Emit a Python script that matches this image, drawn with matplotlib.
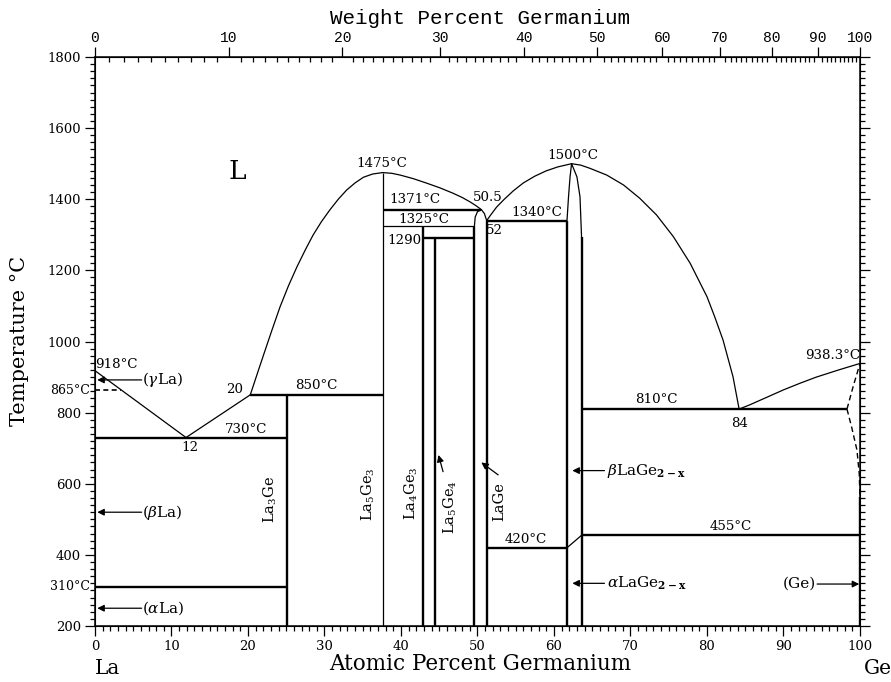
import numpy as np
import matplotlib.pyplot as plt

plt.rcParams['font.family'] = 'DejaVu Serif'
plt.rcParams['mathtext.fontset'] = 'dejavuserif'

# curves (atomic % Ge, temperature in C)
liq_la_x = [0, 11.9]
liq_la_t = [918, 730]
liq_12_20_x = [11.9, 20.3]
liq_12_20_t = [730, 850]
dome1_x = [20.3, 21.1, 22.0, 23.1, 24.2, 25.3, 26.4, 27.5, 28.5, 29.6, 30.7, 31.8, 32.9, 34.0,
           35.1, 36.3, 37.6, 38.8, 39.9, 41.6, 43.4, 45.1, 46.8, 48.0, 49.0, 49.8, 50.5]
dome1_t = [850, 902, 960, 1030, 1098, 1157, 1210, 1258, 1299, 1337, 1370, 1400, 1426, 1446,
           1462, 1471, 1475, 1473, 1468, 1458, 1445, 1432, 1417, 1405, 1393, 1382, 1371]
lage_arc_x = [49.6, 49.7, 50.0, 50.5, 50.9, 51.2]
lage_arc_t = [1325, 1350, 1365, 1371, 1360, 1340]
dome2_x = [51.2, 51.8, 52.5, 53.5, 54.7, 56.0, 57.5, 59.0, 60.5, 62.3, 63.5, 64.7, 66.9, 69.1,
           71.2, 73.4, 75.6, 77.8, 80.0, 81.0, 82.1, 83.4, 84.2]
dome2_t = [1340, 1358, 1378, 1400, 1424, 1446, 1465, 1480, 1491, 1500, 1496, 1487, 1468, 1440,
           1403, 1356, 1295, 1220, 1126, 1070, 1004, 901, 810]
liq_ge_x = [84.2, 85.6, 87.8, 90.0, 92.2, 94.3, 97.2, 100]
liq_ge_t = [810, 822, 843, 864, 883, 900, 920, 938.3]
lage2_left_x = [61.7, 61.9, 62.1, 62.3]
lage2_left_t = [1340, 1407, 1463, 1500]
lage2_right_x = [62.3, 63.0, 63.4, 63.6]
lage2_right_t = [1500, 1463, 1407, 1295]
ge_solvus_up_x = [98.3, 99.1, 100]
ge_solvus_up_t = [810, 873, 938.3]
ge_solvus_lo_x = [98.3, 98.9, 99.6, 99.9, 100]
ge_solvus_lo_t = [810, 760, 695, 629, 564]

# invariant lines
iso_t = [310, 730, 850, 1371, 1290, 1340, 420, 455, 810]
iso_x0 = [0, 0, 20.3, 37.6, 42.9, 51.2, 51.2, 63.6, 63.6]
iso_x1 = [25.1, 25.1, 37.6, 50.5, 49.6, 61.7, 61.7, 100, 98.3]
# phase boundaries (vertical)
vert_x = [25.1, 42.9, 44.5, 49.6, 51.2, 61.7, 63.6, 100]
vert_top = [850, 1325, 1290, 1325, 1340, 1340, 1295, 564]
la5ge3_x = 37.6
la5ge3_top = 1475
thin_iso_t = 1325
thin_iso_x = [37.6, 49.6]
slant_x = [61.7, 63.6]
slant_t = [420, 455]
dash_865_x = [0, 3.4]
dash_865_t = [865, 865]

# weight percent ticks on top
wt_major = list(range(0, 101, 10))
wt_minor = list(range(0, 101, 1))
M_LA, M_GE = 138.905, 72.63


def wt_to_at(w):
    w = np.asarray(w, dtype=float)
    g = w / M_GE
    l = (100 - w) / M_LA
    return 100 * g / (g + l)


fig = plt.figure(figsize=(8.91, 6.82), dpi=100)
ax = fig.add_axes([0.1066, 0.0821, 0.8586, 0.8343])

thick = 1.7
thin = 0.9
k = 'black'

for xs, ts in [(liq_la_x, liq_la_t), (liq_12_20_x, liq_12_20_t), (dome1_x, dome1_t),
               (lage_arc_x, lage_arc_t), (dome2_x, dome2_t), (liq_ge_x, liq_ge_t),
               (lage2_left_x, lage2_left_t), (lage2_right_x, lage2_right_t)]:
    ax.plot(xs, ts, color=k, lw=thin, solid_joinstyle='round')

ax.hlines(iso_t, iso_x0, iso_x1, color=k, lw=thick)
ax.vlines(vert_x, 200, vert_top, color=k, lw=thick)
ax.vlines(la5ge3_x, 200, la5ge3_top, color=k, lw=thin)
ax.hlines(thin_iso_t, thin_iso_x[0], thin_iso_x[1], color=k, lw=thin)
ax.plot(slant_x, slant_t, color=k, lw=thin)
ax.plot(dash_865_x, dash_865_t, color=k, lw=1.2, ls=(0, (3, 2)))
ax.plot(ge_solvus_up_x, ge_solvus_up_t, color=k, lw=1.0, ls=(0, (4, 2.5)))
ax.plot(ge_solvus_lo_x, ge_solvus_lo_t, color=k, lw=1.0, ls=(0, (4, 2.5)))

ax.set_xlim(0, 100)
ax.set_ylim(200, 1800)
ax.set_xticks(range(0, 101, 10))
ax.set_xticks(range(0, 101, 1), minor=True)
ax.set_yticks(range(200, 1801, 200))
ax.set_yticks(range(200, 1801, 20), minor=True)
ax.tick_params(which='both', direction='out', right=True, top=False, width=0.9)
ax.tick_params(which='major', length=7, labelsize=9.5, pad=3)
ax.tick_params(which='minor', length=3.5)
for s in ax.spines.values():
    s.set_linewidth(1.1)

ax2 = ax.twiny()
ax2.set_xlim(0, 100)
ax2.set_xticks(wt_to_at(wt_major))
ax2.set_xticklabels([str(w) for w in wt_major], family='Liberation Mono', fontsize=10.5)
ax2.set_xticks(wt_to_at(wt_minor), minor=True)
ax2.tick_params(which='major', direction='out', length=7, width=0.9, pad=2)
ax2.tick_params(which='minor', direction='in', length=3.5, width=0.9)

# axis titles
fig.text(0.5387, 0.9736, 'Weight Percent Germanium', family='Liberation Mono',
         fontsize=15, ha='center', va='center')
fig.text(0.5387, 0.026, 'Atomic Percent Germanium', fontsize=15.5, ha='center', va='center')
fig.text(0.0224, 0.5, 'Temperature \u00b0C', fontsize=15, ha='center', va='center', rotation=90)
fig.text(0.121, 0.0205, 'La', fontsize=14.5, ha='center', va='center')
fig.text(0.9854, 0.0205, 'Ge', fontsize=14.5, ha='center', va='center')

# extra temperature labels on the left axis
ax.text(-0.6, 310, '310\u00b0C', fontsize=9, ha='right', va='center', clip_on=False)
ax.text(-0.6, 862, '865\u00b0C', fontsize=9, ha='right', va='center', clip_on=False)

fs = 9.6
labels = [
    ('918\u00b0C', 2.8, 934), ('1475\u00b0C', 37.5, 1501), ('1371\u00b0C', 41.8, 1398),
    ('50.5', 51.3, 1404), ('1325\u00b0C', 43.0, 1342), ('1290', 40.4, 1285),
    ('52', 52.2, 1313), ('1340\u00b0C', 57.7, 1362), ('1500\u00b0C', 62.4, 1524),
    ('850\u00b0C', 28.9, 875), ('730\u00b0C', 19.8, 753), ('12', 12.4, 702),
    ('20', 18.2, 864), ('810\u00b0C', 73.4, 837), ('84', 84.2, 770),
    ('938.3\u00b0C', 96.4, 962), ('455\u00b0C', 83.1, 481), ('420\u00b0C', 56.3, 442),
]
for s, x, t in labels:
    ax.text(x, t, s, fontsize=fs, ha='center', va='center')

ax.text(18.6, 1477, 'L', fontsize=19, ha='center', va='center')

phase_labels = [
    (r'La$_3$Ge', 22.9, 557), (r'La$_5$Ge$_3$', 35.7, 571), (r'La$_4$Ge$_3$', 41.4, 574),
    (r'La$_5$Ge$_4$', 46.4, 535), ('LaGe', 52.8, 551),
]
for s, x, t in phase_labels:
    ax.text(x, t, s, fontsize=10.5, ha='center', va='center', rotation=90)

arrow = dict(arrowstyle='-|>', color=k, lw=0.9, mutation_scale=10, shrinkA=0, shrinkB=0)
side_labels = [
    (r'($\gamma$La)', 6.1, 892, 0.3), (r'($\beta$La)', 6.1, 520, 0.3),
    (r'($\alpha$La)', 6.1, 250, 0.3),
]
for s, x, t, tip in side_labels:
    ax.annotate('', xy=(tip, t), xytext=(x, t), arrowprops=arrow)
    ax.text(x, t, s, fontsize=11, ha='left', va='center')

for s, t in [(r'$\beta$LaGe$_{\mathbf{2-x}}$', 637), (r'$\alpha$LaGe$_{\mathbf{2-x}}$', 320)]:
    ax.annotate('', xy=(62.4, t), xytext=(66.6, t), arrowprops=arrow)
    ax.text(66.9, t, s, fontsize=11, ha='left', va='center')

ax.annotate('', xy=(99.9, 318), xytext=(94.4, 318), arrowprops=arrow)
ax.text(94.3, 318, '(Ge)', fontsize=11, ha='right', va='center')

ax.annotate('', xy=(44.9, 681), xytext=(45.5, 634), arrowprops=arrow)
ax.annotate('', xy=(50.5, 660), xytext=(52.7, 625), arrowprops=arrow)

fig.savefig('out.png', dpi=100)
